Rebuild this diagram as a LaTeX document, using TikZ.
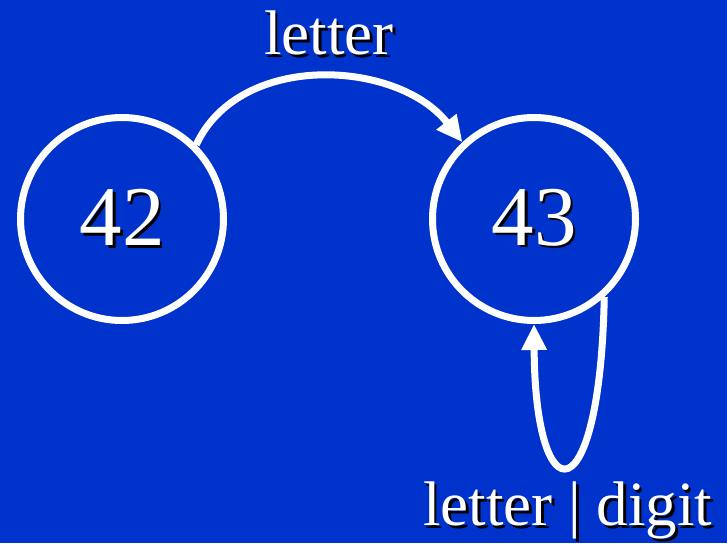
\documentclass[tikz,border=0pt]{standalone}
\usepackage{fontspec}
\setmainfont{Liberation Serif}
\usepackage{xcolor}
\usetikzlibrary{arrows.meta,positioning}

\definecolor{slideblue}{RGB}{0,51,204}
% white text with a dark drop shadow
\newcommand{\shadowed}[1]{\rlap{\kern2.5pt\raisebox{-2.5pt}{\color{black}#1}}#1}

\begin{document}
\begin{tikzpicture}[
    x=1pt, y=1pt,
    node distance=412pt,
    >={Triangle[width=24pt,length=26pt]},
    state/.style={draw=white, circle, line width=7pt, minimum size=203pt, inner sep=0pt, text=white, font=\fontsize{85}{90}\selectfont},
    lbl/.style={text=white, inner sep=0pt, font=\fontsize{63}{70}\selectfont},
    edge/.style={->, draw=white, line width=7pt}
]
    \fill[slideblue] (0,0) rectangle (727,-543);
    \useasboundingbox (0,0) rectangle (727,-543);

    \node[state] (n42) at (122,-219) {\shadowed{42}};
    \node[state, right of=n42] (n43) {\shadowed{43}};

    \draw[edge] (n42.45) to[out=65,in=128] node[lbl, above=16pt, xshift=7pt] (lblA) {\shadowed{letter}} (n43.133);
    \draw[edge] (n43.-48) .. controls (600,-517) and (535,-517) .. node[lbl, below=13pt] (lblB) {\shadowed{letter | digit}} (n43.south);
\end{tikzpicture}
\end{document}
